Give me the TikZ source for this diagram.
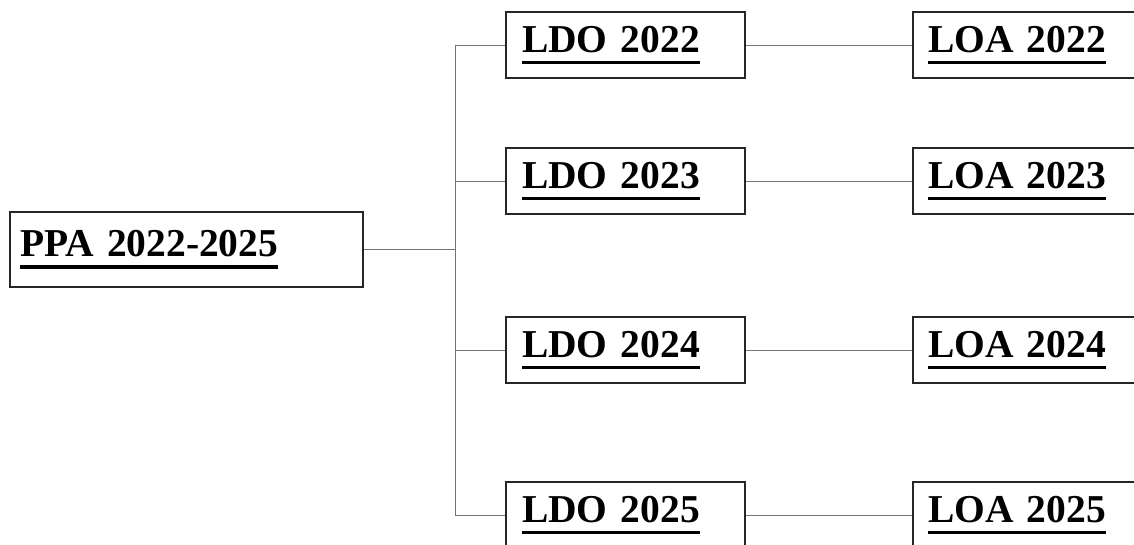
\documentclass[tikz,border=0pt]{standalone}
\usepackage{fontspec}
\setmainfont{Liberation Serif}
\newcommand\myul[1]{\setbox0\hbox{#1}\rlap{\rule[-12pt]{\wd0}{3.2pt}}\box0}
\tikzset{
  boxnode/.style={draw=black!85, line width=2.2pt, minimum height=66pt,
    inner ysep=0pt, align=left, font=\fontsize{39.5}{44}\selectfont\bfseries},
  ldobox/.style={boxnode, text width=207pt, inner xsep=16pt},
  loabox/.style={boxnode, text width=230pt, inner xsep=15pt},
  ppabox/.style={boxnode, text width=333pt, inner xsep=10pt, minimum height=75pt},
  conn/.style={draw=black!55, line width=0.6pt}
}
\begin{document}
\begin{tikzpicture}[x=1pt,y=1pt]
\useasboundingbox (0,0) rectangle (1134,545);
\clip (0,0) rectangle (1134,545);
\node[ppabox] (ppa) at (186.5,295.5) {\myul{PPA 2022-2025}};
\node[ldobox] (l1) at (625.5,500) {\myul{LDO 2022}};
\node[ldobox] (l2) at (625.5,364) {\myul{LDO 2023}};
\node[ldobox] (l3) at (625.5,195) {\myul{LDO 2024}};
\node[ldobox] (l4) at (625.5,30) {\myul{LDO 2025}};
\node[loabox, anchor=west] (a1) at (912,500) {\myul{LOA 2022}};
\node[loabox, anchor=west] (a2) at (912,364) {\myul{LOA 2023}};
\node[loabox, anchor=west] (a3) at (912,195) {\myul{LOA 2024}};
\node[loabox, anchor=west] (a4) at (912,30) {\myul{LOA 2025}};
\coordinate (spine) at (455,300);
\draw[conn] (ppa.east) -- (ppa.east -| spine);
\draw[conn] (spine |- l1.west) -- (spine |- l4.west);
\foreach \i in {1,2,3,4} {
  \draw[conn] (spine |- l\i.west) -- (l\i.west);
  \draw[conn] (l\i.east) -- (a\i.west);
}
\end{tikzpicture}
\end{document}
